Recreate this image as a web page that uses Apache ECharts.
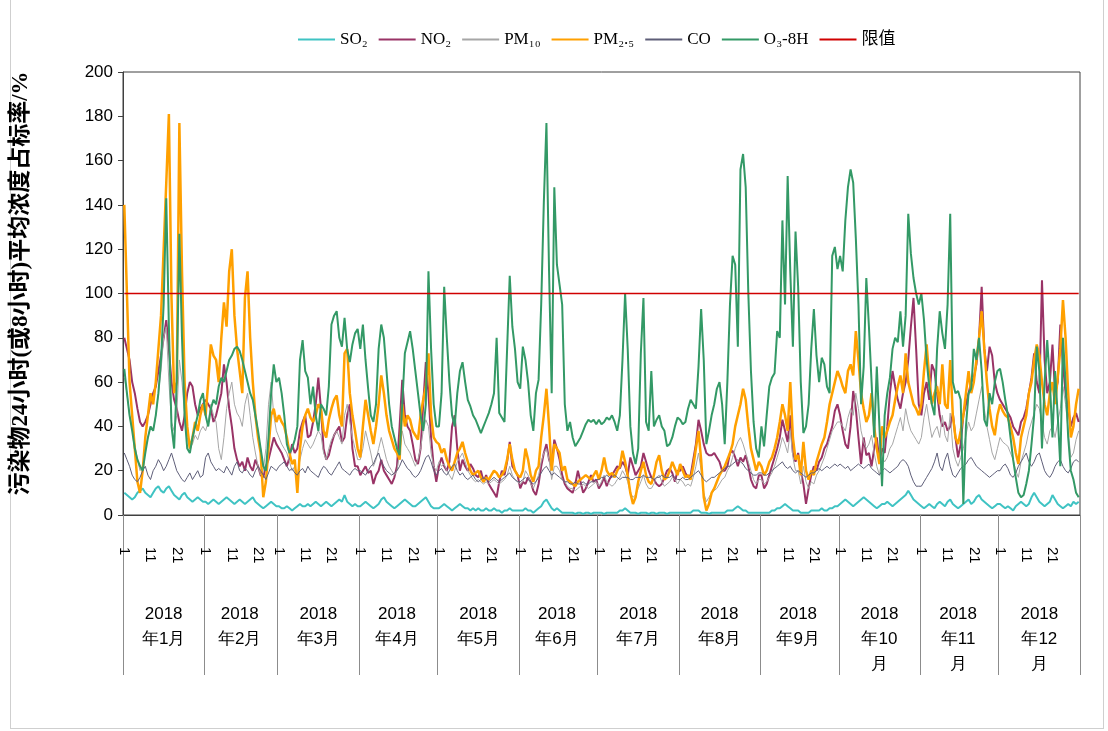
<!DOCTYPE html>
<html>
<head>
<meta charset="utf-8">
<script src="https://cdn.jsdelivr.net/npm/echarts@6/dist/echarts.min.js"></script>
<style>
html,body{margin:0;padding:0;background:#fff;}
#frame{position:absolute;left:10px;top:-2px;width:1094px;height:731px;border:1px solid #cfcfcf;box-sizing:border-box;}
#chart{position:absolute;left:0;top:0;width:1108px;height:731px;}
</style>
</head>
<body>
<div id="frame"></div>
<div id="chart"></div>
<script>
// ---- data ----
const YEAR = 2018;
const monthDays = [31,28,31,30,31,30,31,31,30,31,30,31];
const monthLabels = ['2018\n年1月','2018\n年2月','2018\n年3月','2018\n年4月','2018\n年5月','2018\n年6月','2018\n年7月','2018\n年8月','2018\n年9月','2018\n年10\n月','2018\n年11\n月','2018\n年12\n月'];
const dayTickLabels = [1, 11, 21];
const yTicks = [0,20,40,60,80,100,120,140,160,180,200];
const LIMIT = 100;

const so2 = [
10,9,8,7,8,10,11,12,10,9,8,10,12,13,11,10,12,13,11,9,8,7,9,10,8,7,6,7,8,7,6,
6,5,6,7,6,5,6,7,8,7,6,5,6,7,6,5,6,7,8,6,5,4,3,4,5,6,5,4,
4,3,3,4,3,2,3,4,5,4,4,5,4,5,6,5,4,5,6,5,4,5,6,7,6,9,6,5,4,5,4,
4,5,6,5,4,3,4,5,7,8,6,5,4,3,4,5,6,7,6,5,4,4,5,6,7,8,6,4,3,3,
3,4,5,4,3,2,3,4,5,4,3,3,2,3,2,3,2,2,3,2,2,3,2,2,1,2,2,3,2,2,2,
2,2,3,2,2,1,2,3,4,6,7,5,3,2,3,2,1,1,1,1,1,0.5,1,1,0.5,1,1,0.5,1,1,
1,1,0.5,1,1,1,1,1,2,2,3,2,1,1,1,0.5,1,1,1,0.5,1,1,0.5,1,1,1,0.5,1,1,1,1,
1,1,1,1,1,2,2,2,1,1,1,0.5,1,1,1,1,1,1,2,2,2,3,4,3,2,2,1,1,1,1,1,
1,1,1,1,2,2,3,3,4,5,4,3,2,2,2,1,1,1,1,2,2,2,2,3,2,2,3,3,4,4,
5,6,7,6,5,4,5,6,7,8,7,6,5,4,3,4,5,5,6,5,4,5,6,7,8,9,11,9,7,6,5,
4,3,4,5,4,3,5,6,5,4,6,7,5,4,3,4,5,6,7,5,6,8,9,7,6,5,4,3,4,5,
5,4,3,4,3,2,4,5,6,5,4,5,8,10,8,6,5,4,5,6,9,7,5,4,3,4,5,4,6,5,6
];
const no2 = [
80,75,70,60,55,48,42,40,42,45,50,55,58,65,72,80,88,75,60,52,48,42,38,45,55,60,58,50,45,48,50,
52,50,48,42,45,50,55,68,60,48,40,30,25,22,24,20,26,22,20,25,22,18,17,22,25,30,35,32,
30,28,25,22,26,32,28,30,38,42,45,35,36,42,50,62,48,30,25,27,32,36,38,40,33,35,45,50,30,22,22,
18,20,22,19,20,14,18,20,25,20,18,16,14,17,22,40,61,45,40,38,32,25,23,30,50,69,55,35,22,15,
22,26,22,20,24,40,45,30,20,25,22,20,23,21,18,17,20,15,18,14,12,10,8,15,20,18,24,33,22,20,18,
12,15,14,17,15,11,9,14,22,28,32,25,22,34,30,25,18,14,12,11,10,14,20,15,10,12,15,18,15,16,
12,14,17,13,16,18,20,22,21,24,22,18,26,22,18,20,22,28,24,20,17,16,14,13,14,17,20,21,19,15,20,
20,22,19,17,18,25,32,43,38,32,28,27,27,28,26,24,20,20,22,28,29,26,22,26,24,27,22,16,13,12,18,
18,12,14,18,22,26,30,35,43,38,33,45,28,24,28,20,14,5,12,18,22,20,24,26,30,32,36,40,47,50,
45,38,32,30,40,56,48,35,23,35,27,28,22,30,35,24,30,28,40,55,65,58,52,48,55,60,70,85,98,75,50,
45,55,60,52,68,65,55,45,40,42,38,40,46,35,26,32,45,50,55,60,62,68,80,103,75,65,76,72,60,55,
52,50,48,46,44,40,38,36,42,44,48,55,62,73,60,55,106,70,55,60,77,55,60,86,68,55,48,40,44,46,42
];
const pm10 = [
62,55,45,40,32,25,20,22,30,35,40,38,45,55,65,80,85,60,42,38,45,70,60,45,35,30,32,36,34,38,40,
38,42,50,45,42,30,25,35,48,55,60,50,46,44,40,50,55,45,35,28,22,18,20,30,50,60,45,38,
35,32,30,28,24,20,22,18,25,30,34,32,30,32,35,38,36,28,25,30,34,36,38,35,32,45,50,42,35,30,25,
25,30,38,33,28,22,25,30,35,30,25,22,20,18,20,28,38,32,30,28,25,22,25,30,38,43,40,28,22,20,
24,22,23,20,18,16,20,24,26,28,24,20,18,16,15,16,15,14,15,14,15,16,15,14,15,16,18,22,18,16,15,
14,15,20,18,14,12,15,18,24,28,30,25,16,22,22,20,16,15,13,12,12,11,12,13,14,13,12,13,14,15,
13,15,18,15,14,13,14,16,17,20,18,15,10,8,9,12,15,18,14,12,12,14,17,18,15,13,14,15,17,16,14,
16,15,13,14,13,17,22,28,20,10,6,8,10,11,12,14,16,17,20,22,26,30,33,35,32,28,24,20,16,14,16,
16,14,15,17,19,22,26,30,35,32,28,38,26,20,20,14,22,15,12,15,14,18,20,23,26,30,34,38,40,42,
42,40,38,44,48,45,55,48,38,33,30,32,36,28,22,18,26,24,26,30,32,36,40,44,38,48,42,38,36,34,32,
35,44,50,42,35,38,40,35,45,36,33,46,30,25,22,26,30,36,42,38,40,46,52,58,48,40,34,28,25,30,
35,33,32,31,28,25,20,17,24,28,32,38,42,46,50,48,42,35,32,38,40,35,42,48,58,50,38,26,28,34,38
];
const pm25 = [
140,100,60,45,30,15,10,20,35,45,55,50,60,75,90,120,150,181,98,55,60,177,110,60,40,30,35,42,38,45,50,
45,60,77,72,70,60,80,96,85,110,120,90,75,65,55,98,110,80,60,45,35,28,8,15,30,45,48,42,
45,42,40,35,28,23,25,10,30,40,45,48,44,42,45,50,48,38,35,43,48,52,54,45,40,73,75,55,45,38,30,
26,40,52,45,38,32,40,50,63,55,45,38,34,30,28,25,50,40,45,43,38,36,34,45,52,58,73,45,35,33,
32,28,30,25,22,20,24,28,30,33,28,24,20,18,19,20,17,15,17,16,18,20,19,17,18,20,25,32,25,20,18,
17,20,30,25,18,15,20,22,35,45,57,40,20,32,30,28,20,22,16,15,14,13,15,16,17,18,17,16,18,20,
16,20,26,20,18,19,17,20,22,29,24,18,10,5,8,15,20,24,18,15,14,18,24,27,20,16,17,20,24,21,18,
23,20,17,18,16,22,30,38,25,8,2,5,10,12,15,18,20,22,25,28,32,40,45,50,57,52,40,30,25,20,24,
22,18,20,24,26,30,35,42,50,45,38,60,35,25,27,18,33,20,16,20,18,24,28,32,35,42,50,55,60,65,
62,58,55,65,68,63,83,70,55,48,42,45,55,40,30,23,40,35,38,42,45,52,58,63,55,73,60,55,50,48,45,
50,65,77,62,50,55,58,50,68,50,48,70,45,35,32,38,45,55,65,55,60,70,80,92,75,60,48,40,36,45,
50,47,45,44,40,35,28,23,35,40,45,55,60,70,77,72,60,50,45,55,60,50,62,75,97,80,55,35,40,50,57
];
const co = [
28,25,22,18,16,15,17,20,22,18,16,20,22,25,23,20,22,25,28,24,20,18,16,15,17,19,16,18,20,17,18,
26,28,24,22,20,21,20,19,22,20,18,22,24,20,19,21,20,18,17,20,22,20,18,16,19,22,21,20,
22,23,24,22,20,21,19,18,20,21,19,22,20,19,18,17,20,22,21,19,18,20,22,24,21,20,19,18,20,21,20,
20,19,18,20,22,23,26,28,24,22,20,19,18,19,20,22,25,23,21,20,18,17,18,20,23,26,27,24,20,18,
20,21,19,18,20,22,23,20,18,19,17,16,17,18,16,15,16,17,16,15,16,17,16,15,16,17,18,19,17,16,15,
15,16,17,16,15,14,15,17,19,21,22,20,18,19,18,17,16,15,15,14,14,15,14,14,15,14,14,15,15,16,
16,17,17,18,17,17,18,17,16,17,17,17,16,16,17,17,17,18,17,17,17,16,17,17,18,17,17,17,18,17,16,
16,17,16,16,17,18,19,20,18,16,15,16,17,17,18,19,20,21,22,22,23,24,25,24,23,21,20,19,18,18,19,
19,18,18,19,20,21,22,23,24,22,21,22,20,19,20,19,18,17,18,19,19,20,21,20,21,22,21,22,23,22,
23,22,21,22,20,21,22,23,22,21,22,23,21,20,19,18,20,21,20,19,20,21,22,24,25,24,22,18,15,13,13,
13,15,17,19,21,24,28,22,20,25,28,22,18,17,19,21,22,23,25,26,24,22,21,20,19,18,17,18,19,20,
20,22,23,21,18,17,19,22,24,26,28,24,22,24,27,28,24,20,18,17,19,22,24,25,22,20,19,21,24,25,24
];
const o3 = [
66,55,45,38,30,25,22,20,28,35,40,38,45,55,70,95,143,85,40,30,60,127,80,45,30,28,35,40,45,52,55,
45,40,48,52,50,58,62,60,65,70,72,75,76,74,70,65,60,55,52,45,38,30,22,20,35,55,68,60,
62,55,45,32,28,30,34,40,70,79,65,62,50,58,45,38,50,48,45,58,86,90,92,80,76,89,75,69,77,82,84,
75,86,70,57,45,42,50,75,86,80,65,50,40,35,30,27,50,73,78,83,75,65,55,45,38,50,110,75,50,40,
40,55,103,80,60,45,40,55,65,69,60,52,49,45,43,40,37,40,43,46,50,55,80,46,44,42,75,108,85,75,60,
57,76,70,60,45,38,55,61,95,141,177,110,55,148,113,104,95,50,38,42,35,31,33,35,38,41,43,42,43,41,
43,41,42,44,43,45,42,38,45,70,100,75,40,28,23,30,73,98,42,38,65,40,43,45,40,38,31,32,35,40,44,
43,41,42,48,52,50,48,67,93,70,32,38,45,50,57,60,50,32,60,95,117,113,76,156,163,148,100,65,42,30,26,
40,31,45,58,62,64,83,80,133,95,153,110,76,128,103,60,37,40,50,75,93,72,60,71,68,58,55,117,121,111,
117,110,133,148,156,150,125,95,50,67,107,85,60,35,67,40,13,45,55,62,75,80,78,92,76,90,136,118,107,100,95,
100,88,70,58,50,45,75,92,82,75,95,136,60,55,56,52,5,40,55,57,75,70,80,65,43,40,55,50,60,65,
66,60,52,45,35,25,17,10,8,9,14,20,32,45,76,65,30,60,79,60,35,65,45,22,80,60,35,20,16,10,8
];

// ---- categories ----
const days = [];
const dayOfMonth = [];
const monthOf = [];
monthDays.forEach((n, m) => {
  for (let d = 1; d <= n; d++) {
    days.push(YEAR + '-' + (m + 1) + '-' + d);
    dayOfMonth.push(d);
    monthOf.push(m);
  }
});
const midIndex = {};
let acc = 0;
monthDays.forEach((n, m) => { midIndex[acc + Math.floor((n - 1) / 2)] = m; acc += n; });

const serif = "'Liberation Serif','Noto Sans CJK SC',serif";
const sans = "'Liberation Sans',Arial,sans-serif";

const chart = echarts.init(document.getElementById('chart'));
const lineSeries = (name, data, color, width, z) => ({
  name, type: 'line', data, symbol: 'none', showSymbol: false, z,
  lineStyle: { color, width }, itemStyle: { color }, emphasis: { disabled: true }
});

const legendNames = ['SO₂', 'NO₂', 'PM₁₀', 'PM₂.₅', 'CO', 'O₃-8H', '限值'];

chart.setOption({
  animation: false,
  legend: {
    top: 26, left: 293,
    itemWidth: 37, itemHeight: 2, itemGap: 11,
    icon: 'rect',
    textStyle: { fontFamily: serif, fontSize: 17, color: '#000' },
    data: legendNames
  },
  grid: { left: 123, right: 28, top: 72, bottom: 216, show: true, borderColor: '#404040', borderWidth: 1 },
  xAxis: [
    {
      type: 'category', data: days, boundaryGap: true, position: 'bottom',
      axisLine: { lineStyle: { color: '#404040', width: 1 } },
      axisTick: { show: false },
      axisLabel: {
        interval: (i) => dayTickLabels.indexOf(dayOfMonth[i]) >= 0,
        formatter: (v, i) => String(dayOfMonth[i]),
        rotate: -90, margin: 32, fontFamily: sans, fontSize: 15, color: '#000'
      },
      splitLine: { show: false }
    },
    {
      type: 'category', data: days, boundaryGap: true, position: 'bottom', offset: 0,
      axisLine: { show: false },
      axisTick: {
        show: true, length: 160,
        interval: (i) => dayOfMonth[i] === 1,
        lineStyle: { color: '#8c8c8c', width: 1 }
      },
      axisLabel: {
        interval: (i) => midIndex[i] !== undefined,
        formatter: (v, i) => monthLabels[monthOf[i]],
        margin: 87, lineHeight: 25, fontFamily: sans, fontSize: 17, color: '#000',
        verticalAlign: 'top'
      },
      splitLine: { show: false }
    }
  ],
  yAxis: {
    type: 'value', min: yTicks[0], max: yTicks[yTicks.length - 1], interval: 20,
    axisLine: { show: true, lineStyle: { color: '#404040' } },
    axisTick: { show: true, length: 5, lineStyle: { color: '#404040' } },
    axisLabel: { fontFamily: sans, fontSize: 17, color: '#000', margin: 10 },
    splitLine: { show: false },
    name: '污染物24小时(或8小时)平均浓度占标率/%',
    nameLocation: 'middle', nameRotate: 90, nameGap: 90,
    nameTextStyle: { fontFamily: serif, fontSize: 23, color: '#000', fontWeight: 'bold', padding: [0, 0, 0, 20] }
  },
  series: [
    lineSeries('SO₂', so2, '#3FC3C3', 2, 2),
    lineSeries('NO₂', no2, '#993366', 2, 3),
    lineSeries('PM₁₀', pm10, '#A6A6A6', 1, 4),
    lineSeries('PM₂.₅', pm25, '#FFA000', 2.5, 5),
    lineSeries('CO', co, '#5E5E78', 1, 6),
    lineSeries('O₃-8H', o3, '#339966', 2, 7),
    lineSeries('限值', days.map(() => LIMIT), '#D00000', 1.3, 8)
  ]
});
</script>
</body>
</html>
